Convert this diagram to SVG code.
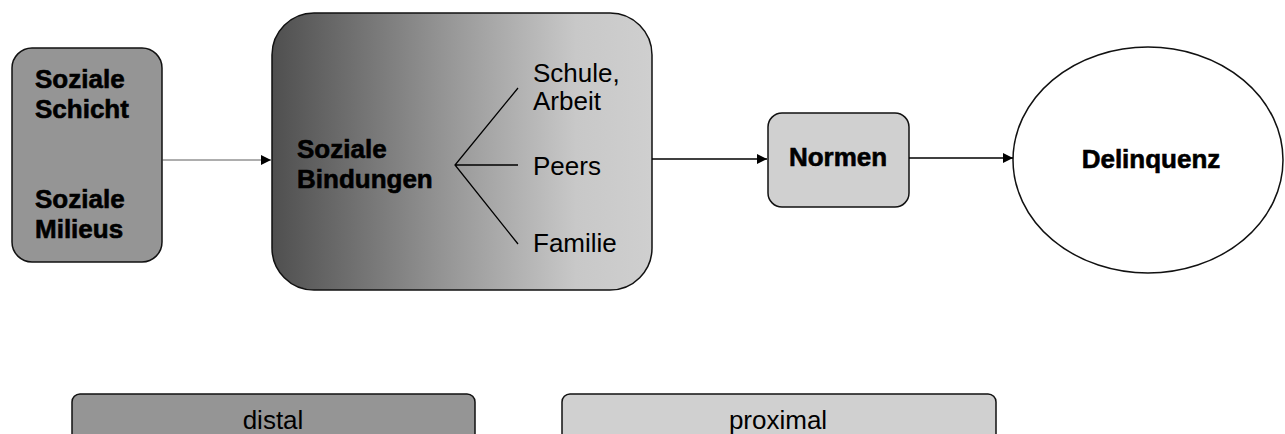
<svg xmlns="http://www.w3.org/2000/svg" width="1285" height="434" viewBox="0 0 1285 434">
<defs>
<linearGradient id="g1" x1="0" y1="0" x2="1" y2="0">
<stop offset="0" stop-color="#4f4f4f"/>
<stop offset="0.5" stop-color="#9c9c9c"/>
<stop offset="0.8" stop-color="#c8c8c8"/>
<stop offset="1" stop-color="#cfcfcf"/>
</linearGradient>
<marker id="ah" viewBox="0 0 10 10" refX="10" refY="5" markerWidth="10" markerHeight="10" markerUnits="userSpaceOnUse" orient="auto">
<path d="M0,0 L10,5 L0,10 z" fill="#000"/>
</marker>
<style>
.box{stroke:#111;stroke-width:1.5}
.b{font-family:"Liberation Sans",Arial,sans-serif;font-weight:bold;font-size:26px;fill:#000;stroke:#000;stroke-width:0.6}
.r{font-family:"Liberation Sans",Arial,sans-serif;font-size:26px;fill:#000}
.c{stroke:#000;stroke-width:1.3;fill:none}
</style>
</defs>
<rect width="1285" height="434" fill="#fff"/>
<g id="node-schicht">
<rect class="box" x="12" y="48" width="150" height="214" rx="20" fill="#959595"/>
<text class="b" x="35" y="88">Soziale</text>
<text class="b" x="35" y="118">Schicht</text>
<text class="b" x="35" y="208">Soziale</text>
<text class="b" x="35" y="238">Milieus</text>
</g>
<g id="node-bindungen">
<rect class="box" x="272" y="13" width="380" height="277" rx="42" fill="url(#g1)"/>
<text class="b" x="297" y="158">Soziale</text>
<text class="b" x="297" y="188">Bindungen</text>
<path class="c" d="M518,88 L455,165 L518,244 M455,165 L518,165"/>
<text class="r" x="533" y="82">Schule,</text>
<text class="r" x="533" y="110">Arbeit</text>
<text class="r" x="533" y="175">Peers</text>
<text class="r" x="533" y="252">Familie</text>
</g>
<g id="node-normen">
<rect class="box" x="768" y="113" width="141" height="94" rx="14" fill="#d0d0d0"/>
<text class="b" x="838" y="166" text-anchor="middle">Normen</text>
</g>
<g id="node-delinquenz">
<ellipse class="box" cx="1148" cy="160" rx="135" ry="113" fill="#fff"/>
<text class="b" x="1151" y="168" text-anchor="middle">Delinquenz</text>
</g>
<g id="node-distal">
<rect class="box" x="72" y="394" width="403" height="60" rx="8" fill="#959595"/>
<text class="r" x="273" y="429" text-anchor="middle">distal</text>
</g>
<g id="node-proximal">
<rect class="box" x="562" y="394" width="434" height="60" rx="8" fill="#d0d0d0"/>
<text class="r" x="778" y="429" text-anchor="middle">proximal</text>
</g>
<g id="connectors">
<line x1="162" y1="160" x2="271" y2="160" stroke="#333" stroke-width="0.8" marker-end="url(#ah)"/>
<line x1="652" y1="159" x2="767" y2="159" stroke="#000" stroke-width="1.3" marker-end="url(#ah)"/>
<line x1="909" y1="158" x2="1013" y2="158" stroke="#000" stroke-width="1.3" marker-end="url(#ah)"/>
</g>
</svg>
